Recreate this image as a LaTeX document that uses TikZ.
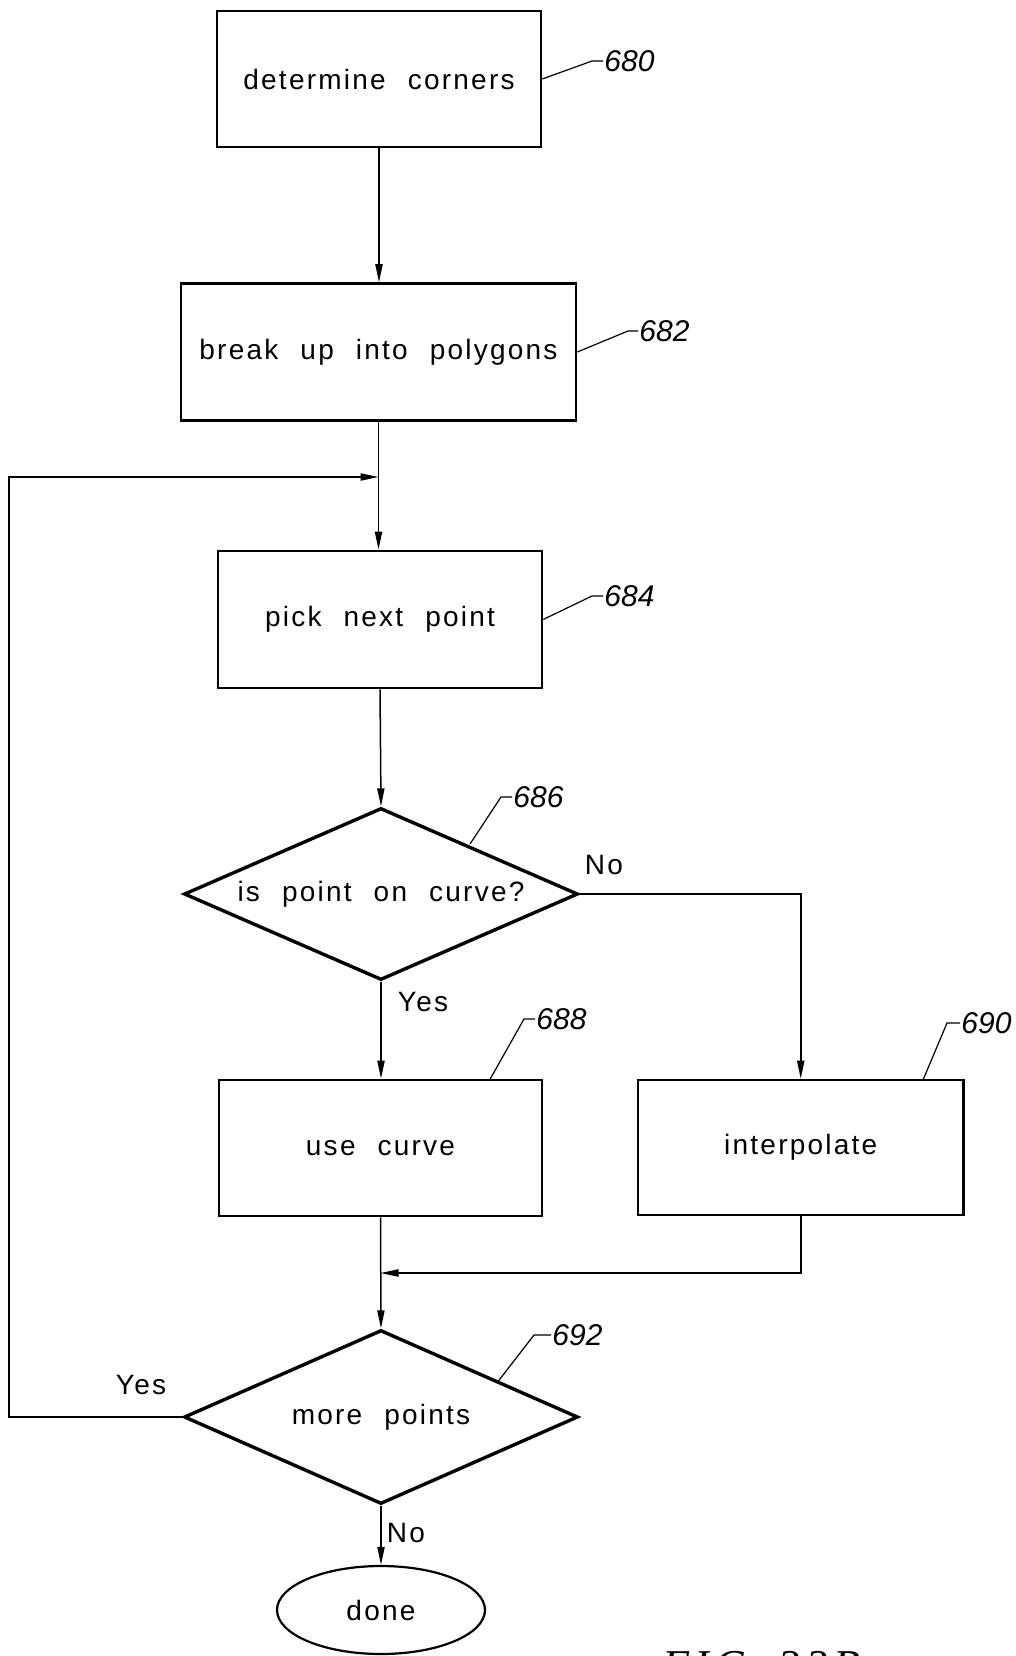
\documentclass[tikz,border=0pt]{standalone}
\usepackage{fontspec}
\setmainfont{Liberation Sans}[LetterSpace=8,WordSpace=2.2]
\newfontfamily\numfont{Liberation Sans}
\newfontfamily\figfont{Liberation Serif}[LetterSpace=12]
\usetikzlibrary{shapes.geometric,arrows.meta}
\begin{document}
\begin{tikzpicture}[x=0.5pt,y=-0.5pt,
  box/.style={draw,line width=1.3pt,inner sep=0pt,font=\fontsize{14}{16}\selectfont},
  dia/.style={draw,shape=diamond,aspect=2.3,line width=1.7pt,inner sep=0pt,minimum width=197pt,minimum height=86pt,font=\fontsize{14}{16}\selectfont},
  term/.style={draw,ellipse,line width=1.1pt,inner sep=0pt,minimum width=104pt,minimum height=44pt,font=\fontsize{14}{16}\selectfont},
  arr/.style={line width=0.75pt,-{Triangle[length=9pt,width=3.6pt]}},
  conn/.style={line width=0.75pt},
  lead/.style={line width=0.6pt},
  num/.style={inner sep=0.5pt,anchor=west,font=\numfont\itshape\fontsize{15}{17}\selectfont},
  yn/.style={inner sep=0pt,font=\fontsize{14}{16}\selectfont}]
\useasboundingbox (0,0) rectangle (1016,1656);
\clip (0,0) rectangle (1016,1656);

% process boxes
\node[box,minimum width=162pt,minimum height=68pt] (n680) at (379,79) {determine corners};
\node[box,minimum width=197.5pt,minimum height=68.5pt] (n682) at (378.5,352) {break up into polygons};
\node[box,minimum width=162pt,minimum height=68.6pt] (n684) at (380,619.4) {pick next point};
\node[dia] (d686) at (381,894) {is point on curve?};
\node[box,minimum width=161.5pt,minimum height=68pt] (n688) at (380.5,1148) {use curve};
\node[box,minimum width=162.75pt,minimum height=67.5pt] (n690) at (800.75,1147.5) {interpolate};
\node[dia,minimum height=87pt] (d692) at (381,1417) {more points};
\node[term] (done) at (381,1610) {done};

% junctions
\coordinate (j1) at (n682.south |- 0,477);
\coordinate (fbt) at (9,477);
\coordinate (j2) at (n688.south |- 0,1273);

% connectors
\draw[arr] (n680.south) -- (n680.south |- n682.north);
\draw[arr] (n682.south) -- (n682.south |- n684.north);
\draw[arr] (n684.south) -- (d686.north);
\draw[arr] (d686.east) -| (n690.north);
\draw[arr] (d686.south) -- (d686.south |- n688.north);
\draw[arr] (n688.south) -- (d692.north);
\draw[arr] (n690.south) |- (j2);
\draw[arr] (d692.west) -| (fbt) -- (j1);
\draw[arr] (d692.south) -- (done.north);

% branch labels
\node[yn] (lno1) at (604,865) {No};
\node[yn] (lyes1) at (423,1001.5) {Yes};
\node[yn] (lyes2) at (141,1385) {Yes};
\node[yn] (lno2) at (406,1533) {No};

% reference numerals with leaders
\node[num] (l680) at (603,61) {680};
\node[num] (l682) at (638,331) {682};
\node[num] (l684) at (603,596) {684};
\node[num] (l686) at (512,797) {686};
\node[num] (l688) at (535,1019) {688};
\node[num] (l690) at (960,1023) {690};
\node[num] (l692) at (551,1335) {692};

\coordinate (s686) at (470,844);
\coordinate (s688) at (489.6,1080);
\coordinate (s690) at (923,1080);
\coordinate (s692) at (498,1381.5);

\draw[lead] (n680.east) -- (592,61) -- (l680.west);
\draw[lead] (n682.east) -- (628,331) -- (l682.west);
\draw[lead] (n684.east) -- (592,596) -- (l684.west);
\draw[lead] (s686) -- (501,797) -- (l686.west);
\draw[lead] (s688) -- (524,1019) -- (l688.west);
\draw[lead] (s690) -- (947,1023) -- (l690.west);
\draw[lead] (s692) -- (534,1335) -- (l692.west);

% figure caption (cut off at the page edge, as in the reference)
\node[anchor=base west,inner sep=0pt,font=\figfont\itshape\fontsize{22}{24}\selectfont] (fig) at (662,1680) {FIG. 33B};
\end{tikzpicture}
\end{document}
